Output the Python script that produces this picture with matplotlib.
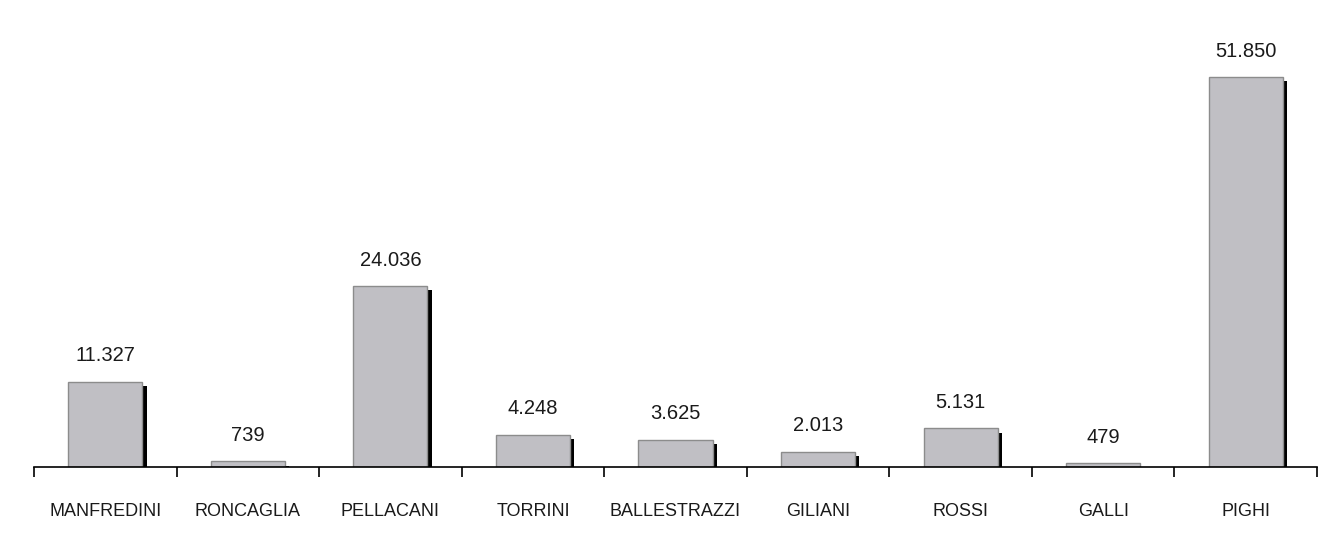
import matplotlib
matplotlib.use("Agg")
import matplotlib.pyplot as plt
import matplotlib.patheffects as pe

names = ["MANFREDINI", "RONCAGLIA", "PELLACANI", "TORRINI", "BALLESTRAZZI",
         "GILIANI", "ROSSI", "GALLI", "PIGHI"]
votes = [11327, 739, 24036, 4248, 3625, 2013, 5131, 479, 51850]
value_labels = ["11.327", "739", "24.036", "4.248", "3.625", "2.013", "5.131", "479", "51.850"]

plt.rcParams['font.family'] = ['Liberation Sans', 'DejaVu Sans']

fig = plt.figure(figsize=(13.29, 5.39), dpi=100)
# axis line at y=467px, left 34px, right 1317px
ax = fig.add_axes([34 / 1329, 72 / 539, 1283 / 1329, 451 / 539])

xs = list(range(len(names)))
bars = ax.bar(xs, votes, width=0.52, color="#c0bfc4", edgecolor="#8c8c8c",
              linewidth=1.0, zorder=2)
for b in bars:
    b.set_path_effects([pe.SimplePatchShadow(offset=(3, -3), shadow_rgbFace="black", alpha=1.0),
                        pe.Normal()])

for x, v, lab in zip(xs, votes, value_labels):
    ax.annotate(lab, (x, v), xytext=(0, 12), textcoords="offset points",
                ha="center", va="bottom", fontsize=14.5, color="#1a1a1a")

ax.set_xlim(-0.5, len(names) - 0.5)
ax.set_ylim(0, 60000)

for s in ["top", "right", "left"]:
    ax.spines[s].set_visible(False)
ax.spines["bottom"].set_color("black")
ax.spines["bottom"].set_linewidth(1.2)
ax.spines["bottom"].set_zorder(3)
ax.set_yticks([])

ax.set_xticks(xs)
ax.set_xticklabels(names, fontsize=13, color="#1a1a1a")
ax.tick_params(axis="x", which="major", length=0, pad=26)
ax.set_xticks([i - 0.5 for i in range(len(names) + 1)], minor=True)
ax.tick_params(axis="x", which="minor", length=7, width=1.2, color="black", direction="out")

fig.savefig("out.png", dpi=100)
